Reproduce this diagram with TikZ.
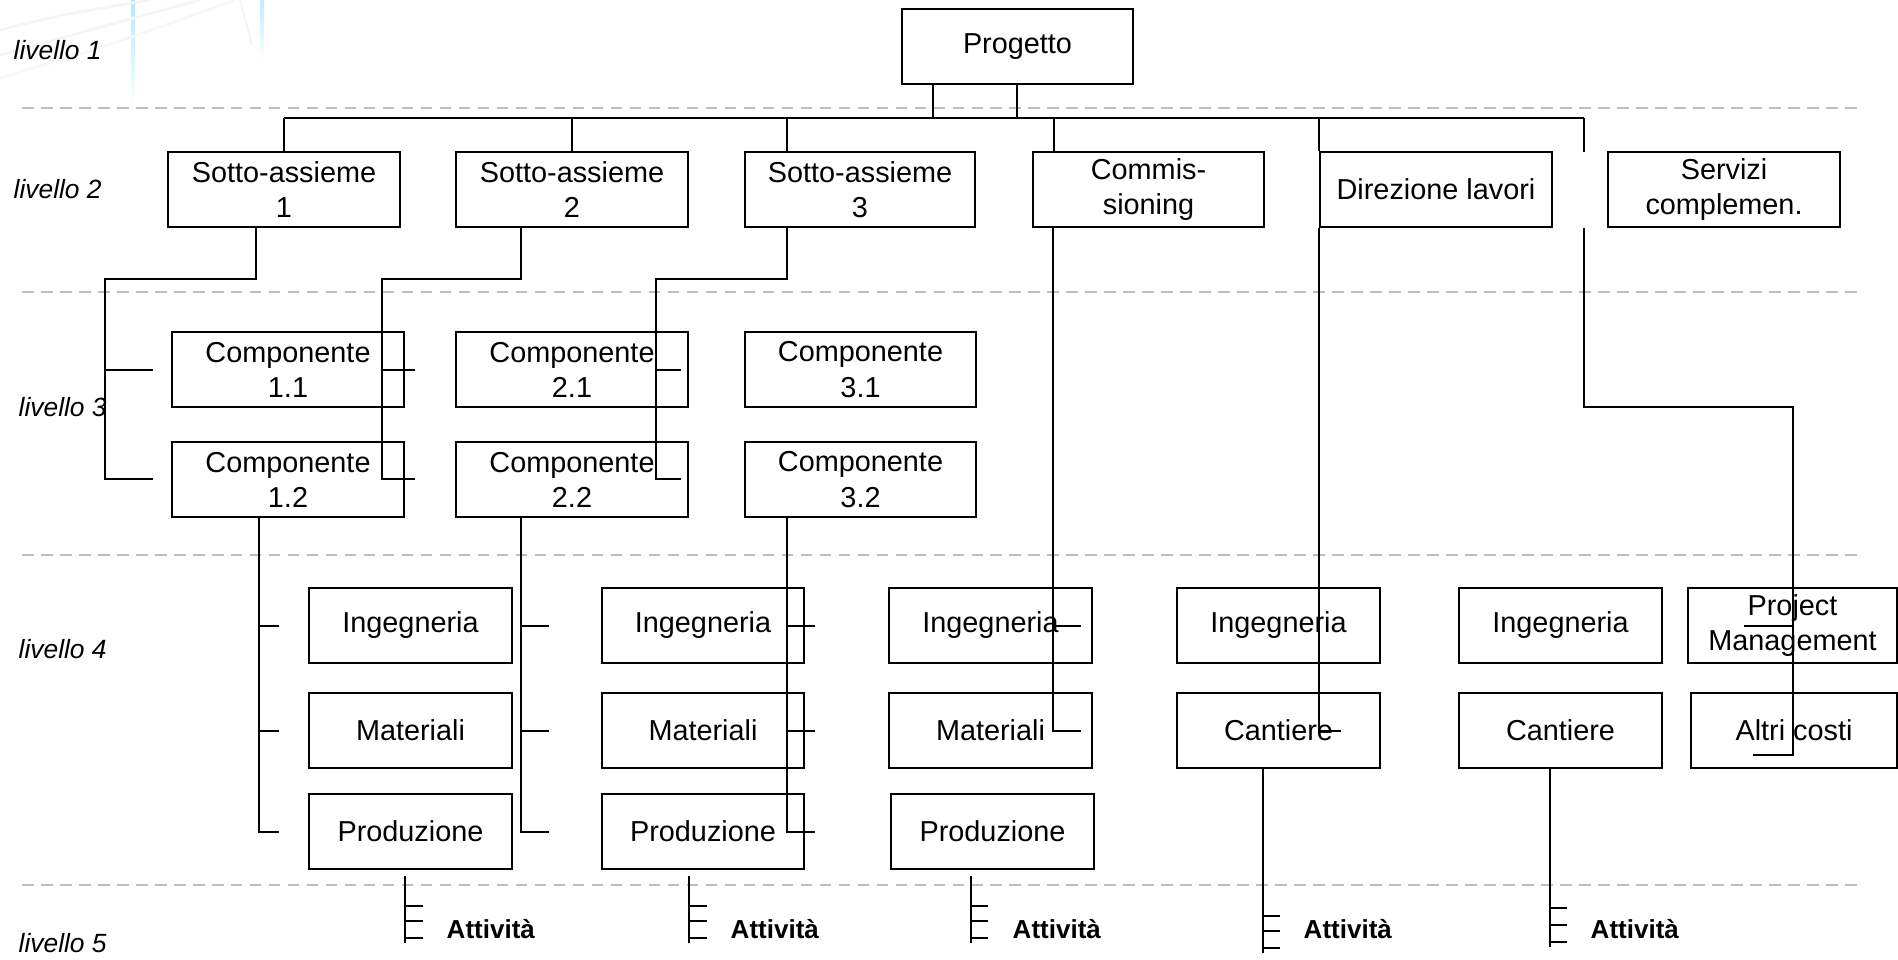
\documentclass[tikz,border=0pt]{standalone}
\usepackage{fontspec}
\setmainfont{Liberation Sans}
% box from its corners: name, x1, y1, x2, y2, text
\newcommand{\wbsbox}[6]{%
  \node[wbs, minimum width={(#4-#2)*0.01cm}, minimum height={(#5-#3)*0.01cm}]
    (#1) at ({(#2+#4)/2},{(#3+#5)/2}) {#6};}
\begin{document}
\begin{tikzpicture}[x=0.01cm,y=-0.01cm,
  wbs/.style={draw, line width=0.57pt, inner sep=0pt, align=center,
              font=\fontsize{8.2}{10}\selectfont},
  lvl/.style={anchor=base west, inner sep=0pt, font=\fontsize{7.5}{9}\selectfont\itshape},
  act/.style={anchor=base west, inner sep=0pt, font=\fontsize{7.4}{9}\selectfont\bfseries},
  guide/.style={draw=black!26, line width=0.7pt, dash pattern=on 3.3pt off 2.1pt},
  bar/.style={line width=0.78pt},
  fine/.style={line width=0.45pt},
]
\useasboundingbox (0,0) rectangle (1898,959);

% faint backdrop graphic in the corner
\shade[top color=blue!30!cyan!30, bottom color=white] (131,0) rectangle (135,105);
\shade[top color=blue!30!cyan!25, bottom color=white] (260,0) rectangle (264,60);
\draw[black!4, line width=0.8pt] (0,30) .. controls (60,15) .. (150,0);
\draw[black!4, line width=0.8pt] (0,55) .. controls (90,30) .. (200,0);
\draw[black!3, line width=0.8pt] (0,78) .. controls (110,45) .. (235,0);
\draw[black!4, line width=0.6pt] (240,0) -- (252,45);

% level guides
\foreach \gy/\gn in {108/g1,292/g2,555/g3,885/g4}{
  \coordinate (\gn a) at (22,\gy);
  \coordinate (\gn b) at (1864,\gy);
  \draw[guide] (\gn a) -- (\gn b);
}

% level labels
\node[lvl] (l1) at (13,59)  {livello 1};
\node[lvl] (l2) at (13,198) {livello 2};
\node[lvl] (l3) at (18,416) {livello 3};
\node[lvl] (l4) at (18,658) {livello 4};
\node[lvl] (l5) at (18,952) {livello 5};

% level 1
\wbsbox{prog}{902}{9}{1133}{84}{Progetto}
% level 2
\wbsbox{sa1}{168}{152}{400}{227}{Sotto-assieme\\1}
\wbsbox{sa2}{456}{152}{688}{227}{Sotto-assieme\\2}
\wbsbox{sa3}{745}{152}{975}{227}{Sotto-assieme\\3}
\wbsbox{com}{1033}{152}{1264}{227}{Commis-\\sioning}
\wbsbox{dir}{1320}{152}{1552}{227}{Direzione lavori}
\wbsbox{ser}{1608}{152}{1840}{227}{Servizi\\complemen.}
% level 3
\wbsbox{c11}{172}{332}{404}{407}{Componente\\1.1}
\wbsbox{c12}{172}{442}{404}{517}{Componente\\1.2}
\wbsbox{c21}{456}{332}{688}{407}{Componente\\2.1}
\wbsbox{c22}{456}{442}{688}{517}{Componente\\2.2}
\wbsbox{c31}{745}{332}{976}{407}{Componente\\3.1}
\wbsbox{c32}{745}{442}{976}{517}{Componente\\3.2}
% level 4
\wbsbox{ing1}{309}{588}{512}{663}{Ingegneria}
\wbsbox{mat1}{309}{693}{512}{768}{Materiali}
\wbsbox{pro1}{309}{794}{512}{869}{Produzione}
\wbsbox{ing2}{602}{588}{804}{663}{Ingegneria}
\wbsbox{mat2}{602}{693}{804}{768}{Materiali}
\wbsbox{pro2}{602}{794}{804}{869}{Produzione}
\wbsbox{ing3}{889}{588}{1092}{663}{Ingegneria}
\wbsbox{mat3}{889}{693}{1092}{768}{Materiali}
\wbsbox{pro3}{891}{794}{1094}{869}{Produzione}
\wbsbox{ing4}{1177}{588}{1380}{663}{Ingegneria}
\wbsbox{can4}{1177}{693}{1380}{768}{Cantiere}
\wbsbox{ing5}{1459}{588}{1662}{663}{Ingegneria}
\wbsbox{can5}{1459}{693}{1662}{768}{Cantiere}
\wbsbox{pm}{1688}{588}{1897}{663}{Project\\Management}
\wbsbox{ac}{1691}{693}{1897}{768}{Altri costi}

% project to the main bus
\coordinate (busL) at (284,118);
\coordinate (busR) at (1584,118);
\draw[bar] (prog.south -| 933,0) -- (933,118);
\draw[bar] (prog.south -| 1017,0) -- (1017,118);
\draw[bar] (busL) -- (busR);
\draw[fine] (busL) -- (sa1.north);
\draw[fine] (572,118) -- (sa2.north);
\draw[fine] (787,118) -- (sa3.north -| 787,0);
\draw[fine] (1054,118) -- (com.north -| 1054,0);
\draw[fine] (1319,118) -- (dir.north -| 1319,0);
\draw[fine] (busR) -- (1584,152);

% sub-assemblies to components
\draw[bar] (sa1.south -| 256,0) |- (105,279) -- (105,479) -- (153,479);
\draw[bar] (105,370) -- (153,370);
\draw[bar] (sa2.south -| 521,0) |- (382,279) -- (382,479) -- (415,479);
\draw[bar] (382,370) -- (415,370);
\draw[bar] (sa3.south -| 787,0) |- (656,279) -- (656,479) -- (681,479);
\draw[bar] (656,370) -- (681,370);

% commissioning, site management, complementary services
\draw[bar] (com.south -| 1053,0) -- (1053,731) -- (1081,731);
\draw[bar] (1053,626) -- (1081,626);
\draw[bar] (dir.south -| 1319,0) -- (1319,731) -- (1341,731);
\draw[fine] (ser.south -| 1584,0) |- (1793,407) -- (1793,755) -- (1753,755);
\draw[fine] (1744,626) -- (1793,626);

% components to work packages
\foreach \cx/\cn/\tx in {259/c12/279, 521/c22/549, 787/c32/815}{
  \draw[bar] (\cn.south -| \cx,0) -- (\cx,832) -- (\tx,832);
  \draw[bar] (\cx,626) -- (\tx,626);
  \draw[bar] (\cx,731) -- (\tx,731);
}

% activities
\foreach \ax/\tx/\lx [count=\i] in {405/423/446, 689/707/730, 971/988/1012}{
  \draw[bar] (\ax,876) -- (\ax,943);
  \foreach \ty in {906,921,938} \draw[bar] (\ax,\ty) -- (\tx,\ty);
  \node[act] (att\i) at (\lx,938) {Attività};
}
\draw[bar] (can4.south -| 1263,0) -- (1263,953);
\foreach \ty in {916,931,948} \draw[bar] (1263,\ty) -- (1280,\ty);
\node[act] (att4) at (1303,938) {Attività};
\draw[bar] (can5.south -| 1550,0) -- (1550,947);
\foreach \ty in {908,925,942} \draw[bar] (1550,\ty) -- (1567,\ty);
\node[act] (att5) at (1590,938) {Attività};
\end{tikzpicture}
\end{document}
